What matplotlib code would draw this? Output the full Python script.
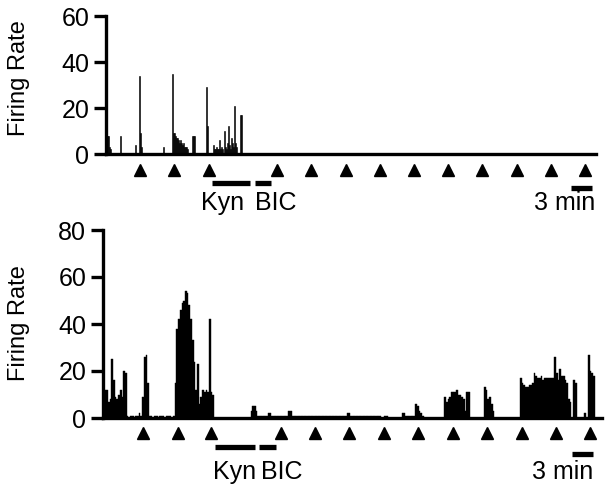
import matplotlib
matplotlib.use("Agg")
import matplotlib.pyplot as plt
import matplotlib.transforms as mtransforms

plt.rcParams['font.family'] = ['Liberation Sans', 'DejaVu Sans']

# ---- top recording: sparse firing-rate bins (min, Hz) ----
top_t = [0.15, 0.29, 0.44, 0.58, 2.05, 4.24, 4.82, 4.97, 5.12, 8.33,
         9.65, 9.80, 9.94, 10.09, 10.23, 10.38, 10.53, 10.67, 10.82, 10.96,
         11.11, 11.26, 11.40, 11.55, 11.70, 11.84, 12.57, 12.72, 12.87,
         14.62, 14.77, 15.64, 15.79, 15.94, 16.08, 16.23, 16.37, 16.52, 16.67,
         16.81, 16.96, 17.25, 17.40, 17.54, 17.69, 17.84, 17.98, 18.13, 18.27,
         18.42, 18.57, 18.71, 18.86, 19.01, 19.59, 19.74]
top_rate = [8, 8, 3, 2, 8, 4, 34, 9, 3, 3,
            35, 9, 9, 8, 7, 7, 6, 5, 6, 5,
            4, 5, 3, 3, 3, 2, 8, 8, 8,
            29, 12, 4, 2, 2, 3, 2, 2, 6, 2,
            3, 2, 10, 3, 2, 5, 12, 4, 2, 7,
            5, 3, 21, 5, 3, 17, 17]
top_bin = 0.15
top_stim = [5, 10, 15, 25, 30, 35, 40, 45, 50, 55, 60, 65, 70]
top_kyn = (15.5, 21.05)
top_bic = (21.8, 24.1)

# ---- bottom recording: binned segments (start min, bin width, rates) ----
seg_a = [12, 12, 7, 8, 25, 16, 9, 8, 10, 12, 9, 20, 19]
seg_b = [1, 0, 1, 1, 0, 1, 1, 2, 1]
seg_c = [9, 26, 27, 15]
seg_d = [1, 1, 0, 1, 1, 0, 1, 1, 1, 0, 1, 1, 1, 0, 1]
seg_e = [15, 38, 42, 46, 49, 50, 54, 53, 48, 42, 33, 24, 12, 23, 6, 9,
         12, 11, 12, 11, 42, 11, 10]
seg_f = [3, 5, 5, 3]
seg_g = [1, 1, 1, 2, 1, 1, 1, 1, 1, 3, 1, 1, 1, 1, 1, 1, 1, 1, 1,
         1, 1, 1, 1, 1, 1, 1, 2, 1, 1, 1, 1, 1, 1, 1, 1, 1, 0, 1]
seg_h = [2, 1, 1, 1]
seg_i = [6, 5, 3, 2, 1]
seg_j = [9, 7, 8, 9, 11, 11, 11, 12, 10, 10, 9, 8, 3, 11, 11]
seg_k = [13, 12, 8, 9, 6, 3]
seg_l = [17, 15, 14, 13, 13, 14, 14, 15, 19, 18, 17, 17, 18, 16, 17,
         17, 17, 17, 17, 17, 26, 19, 16, 21, 18, 18, 16, 15, 8, 7]
seg_m = [16, 15]
seg_n = [2, 0, 27, 20, 19, 18]
bot_segments = [(0.2, 0.25, seg_a), (3.45, 0.25, seg_b), (5.7, 0.25, seg_c),
                (6.7, 0.25, seg_d), (10.45, 0.25, seg_e), (21.5, 0.25, seg_f),
                (22.5, 0.5, seg_g), (43.5, 0.5, seg_h), (45.5, 0.25, seg_i),
                (49.7, 0.25, seg_j), (55.5, 0.25, seg_k), (60.75, 0.25, seg_l),
                (68.5, 0.25, seg_m), (70.15, 0.25, seg_n)]
bot_stim = [5.9, 10.9, 15.8, 25.9, 30.9, 35.9, 40.9, 45.9, 51.0, 56.0, 61.0, 66.0, 70.9]
bot_kyn = (16.3, 22.15)
bot_bic = (22.7, 25.2)


def style_axis(ax, ymax, step):
    ax.set_ylim(0, ymax)
    ax.set_yticks(range(0, ymax + 1, step))
    for s in ['top', 'right']:
        ax.spines[s].set_visible(False)
    ax.spines['left'].set_linewidth(2.4)
    ax.spines['bottom'].set_linewidth(2.4)
    ax.tick_params(axis='y', length=9, width=2.4, labelsize=18, pad=3)
    ax.set_xticks([])


def annotate(ax, stim, kyn, bic, scale, y_tri, y_bar, y_sc, y_txt, kyn_x, bic_x, sc_x):
    trans = mtransforms.blended_transform_factory(ax.transData, ax.transAxes)
    ax.plot(stim, [y_tri] * len(stim), '^', color='black', ms=9,
            transform=trans, clip_on=False)
    for a, b in [kyn, bic]:
        ax.plot([a, b], [y_bar, y_bar], color='black', lw=3.8,
                solid_capstyle='butt', transform=trans, clip_on=False)
    ax.plot(scale, [y_sc, y_sc], color='black', lw=3.8,
            solid_capstyle='butt', transform=trans, clip_on=False)
    ax.text(kyn_x, y_txt, 'Kyn', transform=trans, ha='center', va='center', fontsize=18)
    ax.text(bic_x, y_txt, 'BIC', transform=trans, ha='center', va='center', fontsize=18)
    ax.text(sc_x, y_txt, '3 min', transform=trans, ha='center', va='center', fontsize=18)


fig = plt.figure(figsize=(6.09, 4.87), dpi=100)

ax1 = fig.add_axes([106 / 609, 1 - 154 / 487, 490 / 609, 138 / 487])
ax1.bar(top_t, top_rate, width=top_bin, align='edge', color='black',
        edgecolor='black', linewidth=0.4)
ax1.set_xlim(0, 71.6)
style_axis(ax1, 60, 20)
annotate(ax1, top_stim, top_kyn, top_bic, (68.0, 71.05),
         -0.116, -0.21, -0.246, -0.355, 17.1, 24.85, 67.0)

ax2 = fig.add_axes([103 / 609, 69 / 487, 499 / 609, 188 / 487])
for start, w, vals in bot_segments:
    xs = [start + i * w for i in range(len(vals))]
    ax2.bar(xs, vals, width=w, align='edge', color='black',
            edgecolor='black', linewidth=0.3)
ax2.set_xlim(0, 72.7)
style_axis(ax2, 80, 20)
annotate(ax2, bot_stim, bot_kyn, bot_bic, (68.4, 71.4),
         -0.08, -0.154, -0.19, -0.287, 19.2, 26.1, 67.0)

fig.text(19 / 609, 1 - 78 / 487, 'Firing Rate', rotation=90,
         ha='center', va='center', fontsize=17)
fig.text(19 / 609, 1 - 323 / 487, 'Firing Rate', rotation=90,
         ha='center', va='center', fontsize=17)

fig.savefig('out.png', dpi=100)
